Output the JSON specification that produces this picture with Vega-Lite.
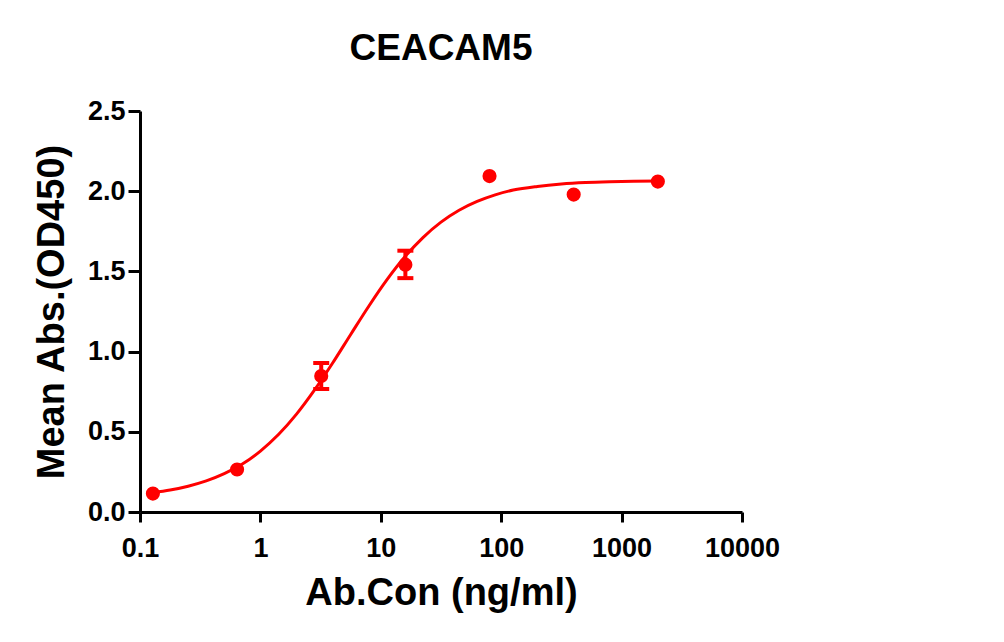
{
  "$schema": "https://vega.github.io/schema/vega-lite/v6.json",
  "autosize": {"type": "none"},
  "width": 602,
  "height": 401,
  "padding": {"left": 140, "top": 111, "right": 262, "bottom": 130},
  "background": "white",
  "config": {
    "view": {"stroke": null},
    "font": "Liberation Sans",
    "axis": {
      "grid": false,
      "domainColor": "black",
      "domainWidth": 3,
      "tickColor": "black",
      "tickWidth": 3,
      "labelColor": "black",
      "labelFont": "Liberation Sans",
      "labelFontWeight": "bold",
      "labelFontSize": 27,
      "titleColor": "black",
      "titleFont": "Liberation Sans",
      "titleFontWeight": "bold",
      "titleFontSize": 38
    }
  },
  "title": {
    "text": "CEACAM5",
    "font": "Liberation Sans",
    "fontSize": 37,
    "fontWeight": "bold",
    "color": "black",
    "anchor": "middle",
    "offset": 29
  },
  "datasets": {
    "points": [
      {"conc": 0.128, "od": 0.115, "lo": null, "hi": null},
      {"conc": 0.64, "od": 0.265, "lo": null, "hi": null},
      {"conc": 3.2, "od": 0.848, "lo": 0.767, "hi": 0.929},
      {"conc": 16, "od": 1.542, "lo": 1.458, "hi": 1.629},
      {"conc": 80, "od": 2.094, "lo": null, "hi": null},
      {"conc": 400, "od": 1.979, "lo": null, "hi": null},
      {"conc": 2000, "od": 2.06, "lo": null, "hi": null}
    ],
    "curve": [
      {"conc": 0.128, "od": 0.121},
      {"conc": 0.178, "od": 0.137},
      {"conc": 0.251, "od": 0.161},
      {"conc": 0.355, "od": 0.194},
      {"conc": 0.501, "od": 0.239},
      {"conc": 0.708, "od": 0.299},
      {"conc": 1.0, "od": 0.380},
      {"conc": 1.413, "od": 0.483},
      {"conc": 1.995, "od": 0.610},
      {"conc": 2.818, "od": 0.761},
      {"conc": 3.981, "od": 0.929},
      {"conc": 5.623, "od": 1.107},
      {"conc": 7.943, "od": 1.283},
      {"conc": 11.22, "od": 1.447},
      {"conc": 15.85, "od": 1.591},
      {"conc": 22.39, "od": 1.711},
      {"conc": 31.62, "od": 1.807},
      {"conc": 44.67, "od": 1.881},
      {"conc": 63.1, "od": 1.936},
      {"conc": 89.1, "od": 1.977},
      {"conc": 125.9, "od": 2.007},
      {"conc": 199.5, "od": 2.030},
      {"conc": 316.2, "od": 2.045},
      {"conc": 501.2, "od": 2.054},
      {"conc": 794.3, "od": 2.059},
      {"conc": 1259, "od": 2.062},
      {"conc": 2000, "od": 2.064}
    ]
  },
  "encoding": {
    "x": {
      "field": "conc",
      "type": "quantitative",
      "scale": {"type": "log", "domain": [0.1, 10000], "nice": false},
      "axis": {
        "title": "Ab.Con (ng/ml)",
        "values": [0.1, 1, 10, 100, 1000, 10000],
        "format": "~g",
        "tickSize": 10,
        "labelPadding": 13,
        "titlePadding": 13,
        "labelFlush": false,
        "labelOverlap": false
      }
    },
    "y": {
      "type": "quantitative",
      "scale": {"domain": [0, 2.5], "nice": false, "zero": false},
      "axis": {
        "title": "Mean Abs.(OD450)",
        "values": [0, 0.5, 1, 1.5, 2, 2.5],
        "format": ".1f",
        "tickSize": 12,
        "labelPadding": 3,
        "titlePadding": 16,
        "labelFlush": false,
        "labelOverlap": false
      }
    }
  },
  "layer": [
    {
      "data": {"name": "curve"},
      "mark": {"type": "line", "color": "#ff0000", "strokeWidth": 3, "interpolate": "monotone", "clip": false},
      "encoding": {"y": {"field": "od"}}
    },
    {
      "data": {"name": "points"},
      "transform": [{"filter": "datum.lo != null"}],
      "mark": {"type": "rule", "color": "#ff0000", "strokeWidth": 4},
      "encoding": {"y": {"field": "lo"}, "y2": {"field": "hi"}}
    },
    {
      "data": {"name": "points"},
      "transform": [{"filter": "datum.lo != null"}],
      "mark": {"type": "tick", "orient": "horizontal", "color": "#ff0000", "size": 16, "thickness": 4, "opacity": 1},
      "encoding": {"y": {"field": "lo"}}
    },
    {
      "data": {"name": "points"},
      "transform": [{"filter": "datum.hi != null"}],
      "mark": {"type": "tick", "orient": "horizontal", "color": "#ff0000", "size": 16, "thickness": 4, "opacity": 1},
      "encoding": {"y": {"field": "hi"}}
    },
    {
      "data": {"name": "points"},
      "mark": {"type": "point", "shape": "circle", "filled": true, "color": "#ff0000", "size": 200, "opacity": 1},
      "encoding": {"y": {"field": "od"}}
    }
  ]
}
